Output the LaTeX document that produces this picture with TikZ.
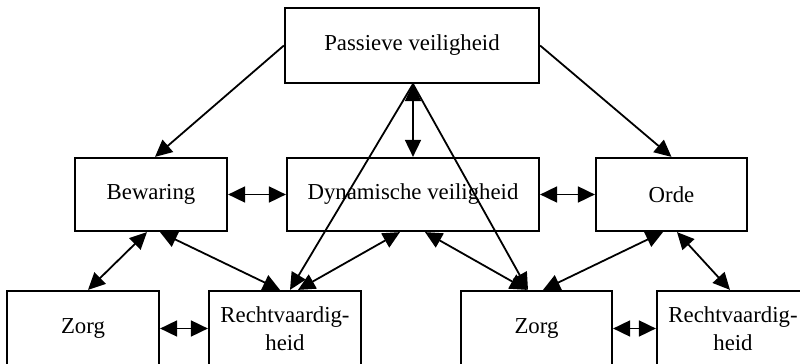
\documentclass[tikz,border=0pt]{standalone}
\usepackage{fontspec}
\setmainfont{Liberation Serif}
\usetikzlibrary{arrows.meta}
\begin{document}
\begin{tikzpicture}[x=0.5pt,y=-0.5pt,
  box/.style={draw,line width=1.1pt,minimum width=76pt,minimum height=36.5pt,inner sep=0pt,align=center,font=\fontsize{11.4}{14}\selectfont},
  conn/.style={line width=0.9pt,-{Triangle[length=8.5pt,width=8pt]}},
  both/.style={line width=0.9pt,{Triangle[length=8.5pt,width=8pt]}-{Triangle[length=8.5pt,width=8pt]}}]
\useasboundingbox (0,0) rectangle (800,364);
\begin{scope}
\clip (0,0) rectangle (800,364);
\node[box,minimum width=127pt,minimum height=37.5pt] (pv) at (412,45.5) {Passieve veiligheid};
\node[box] (bw) at (151,194.5) {Bewaring};
\node[box,minimum width=126pt] (dv) at (413,194.5) {Dynamische veiligheid};
\node[box,minimum width=75.5pt] (od) at (671.5,194.5) {Orde};
\node[box,minimum height=37.5pt] (zl) at (83,328.5) {Zorg};
\node[box,minimum height=37.5pt] (rl) at (285,328.5) {Rechtvaardig-\\heid};
\node[box,minimum width=75.5pt,minimum height=37.5pt] (zr) at (536.5,328.5) {Zorg};
\node[box,minimum height=37.5pt] (rr) at (733,328.5) {Rechtvaardig-\\heid};
\end{scope}
\draw[conn] (pv.west) -- ([xshift=2pt]bw.north);
\draw[conn] (pv.east) -- (od.north);
\draw[both] ([xshift=0.5pt]pv.south) -- (dv.north);
\draw[conn] ([xshift=0.5pt]pv.south) -- ([xshift=2.5pt]rl.north);
\draw[conn] ([xshift=0.5pt]pv.south) -- ([xshift=-4.25pt]zr.north);
\draw[both] (bw.east) -- (dv.west);
\draw[both] (dv.east) -- (od.west);
\draw[both] ([xshift=-2pt]bw.south) -- ([xshift=2.5pt]zl.north);
\draw[both] ([xshift=4.5pt]bw.south) -- ([xshift=-2.5pt]rl.north);
\draw[both] ([xshift=-6.5pt]dv.south) -- ([xshift=6.5pt]rl.north);
\draw[both] ([xshift=6pt]dv.south) -- ([xshift=-4.75pt]zr.north);
\draw[both] ([xshift=-4.25pt]od.south) -- ([xshift=3.25pt]zr.north);
\draw[both] ([xshift=2.75pt]od.south) -- ([xshift=-1.5pt]rr.north);
\draw[both] (zl.east) -- (rl.west);
\draw[both] (zr.east) -- (rr.west);
\end{tikzpicture}
\end{document}
